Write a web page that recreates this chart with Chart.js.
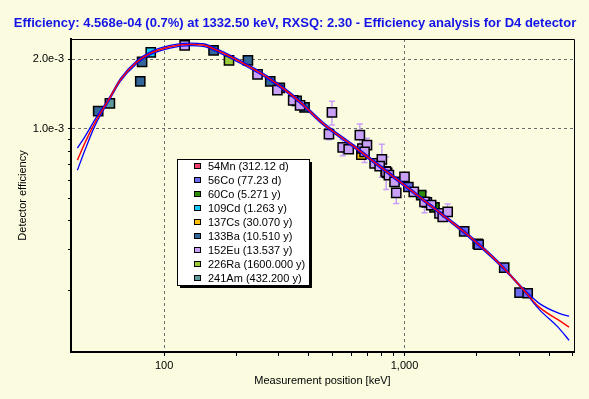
<!DOCTYPE html>
<html>
<head>
<meta charset="utf-8">
<script src="https://cdn.jsdelivr.net/npm/chart.js@4.4.0/dist/chart.umd.min.js"></script>
<style>
  html, body { margin: 0; padding: 0; background: #fbfbe0; }
  #wrap { width: 589px; height: 399px; }
</style>
</head>
<body>
<div id="wrap"><canvas id="eff" width="589" height="399"></canvas></div>
<script>
// measured points, energy [keV] / efficiency
const mn54E = [834.8];
const mn54Eff = [6.55e-4];
const co56E = [846.8, 1037.8, 1238.3, 1771.4, 2015.2, 2034.8, 2598.5, 3009.6, 3253.5];
const co56Eff = [6.45e-4, 5.60e-4, 4.80e-4, 3.60e-4, 3.18e-4, 3.15e-4, 2.506e-4, 1.952e-4, 1.94e-4];
const co60E = [1173.2, 1332.5];
const co60Eff = [5.16e-4, 4.568e-4];
const cd109E = [88.0];
const cd109Eff = [2.145e-3];
const cs137E = [661.7];
const cs137Eff = [7.73e-4];
const ba133E = [53.2, 79.6, 81.0, 160.6, 223.2, 276.4, 302.9, 356.0, 383.9];
const ba133Eff = [1.193e-3, 1.605e-3, 1.952e-3, 2.188e-3, 1.98e-3, 1.605e-3, 1.506e-3, 1.322e-3, 1.238e-3];
const eu152E = [121.8, 244.7, 295.9, 344.3, 367.8, 485, 499, 553, 586, 652, 668, 698, 682, 751, 805, 788, 839, 861, 909, 1000, 924, 1093, 1211, 1291, 1398, 1442, 1512];
const eu152Eff = [2.30e-3, 1.722e-3, 1.472e-3, 1.328e-3, 1.263e-3, 9.48e-4, 1.178e-3, 8.31e-4, 8.16e-4, 9.39e-4, 8.22e-4, 8.50e-4, 7.95e-4, 7.08e-4, 7.37e-4, 6.89e-4, 6.51e-4, 6.30e-4, 5.89e-4, 6.19e-4, 5.28e-4, 5.33e-4, 4.83e-4, 4.67e-4, 4.30e-4, 4.15e-4, 4.37e-4];
const eu152Err = [0, 0, 4.5e-5, 0, 0, 5e-5, 1.4e-4, 6.7e-5, 0, 1.1e-4, 0, 6e-5, 8e-5, 0, 1.2e-4, 0, 1.05e-4, 0, 0, 0, 5.3e-5, 0, 5e-5, 0, 0, 0, 3.5e-5];
const ra226E = [186.2];
const ra226Eff = [1.98e-3];
const am241E = [59.5];
const am241Eff = [1.289e-3];

// fitted curve and its bounds
const curveE = [43.6, 47.0, 51.7, 59.7, 65.7, 77.0, 87.5, 105.9, 128.2, 145.1, 170.8, 213.3, 266.8, 312.6, 366.6, 458.1, 620.1, 715.8, 1000, 1537, 1803, 2479, 3097, 3634, 4398, 4837];
const fitEff = [7.32e-4, 8.76e-4, 1.069e-3, 1.373e-3, 1.626e-3, 1.946e-3, 2.123e-3, 2.268e-3, 2.323e-3, 2.307e-3, 2.158e-3, 1.921e-3, 1.681e-3, 1.497e-3, 1.310e-3, 1.055e-3, 8.35e-4, 7.44e-4, 5.70e-4, 4.02e-4, 3.52e-4, 2.61e-4, 2.03e-4, 1.69e-4, 1.48e-4, 1.385e-4];
const upperEff = [8.25e-4, 9.30e-4, 1.102e-3, 1.386e-3, 1.647e-3, 1.971e-3, 2.151e-3, 2.297e-3, 2.353e-3, 2.337e-3, 2.186e-3, 1.946e-3, 1.703e-3, 1.516e-3, 1.327e-3, 1.069e-3, 8.46e-4, 7.54e-4, 5.77e-4, 4.07e-4, 3.57e-4, 2.64e-4, 2.05e-4, 1.754e-4, 1.588e-4, 1.545e-4];
const lowerEff = [6.62e-4, 8.16e-4, 1.038e-3, 1.352e-3, 1.605e-3, 1.921e-3, 2.096e-3, 2.239e-3, 2.293e-3, 2.277e-3, 2.130e-3, 1.896e-3, 1.659e-3, 1.478e-3, 1.293e-3, 1.041e-3, 8.24e-4, 7.34e-4, 5.63e-4, 3.97e-4, 3.47e-4, 2.58e-4, 2.02e-4, 1.653e-4, 1.367e-4, 1.213e-4];

const nuclideNames = ['54Mn (312.12 d)', '56Co (77.23 d)', '60Co (5.271 y)', '109Cd (1.263 y)', '137Cs (30.070 y)', '133Ba (10.510 y)', '152Eu (13.537 y)', '226Ra (1600.000 y)', '241Am (432.200 y)'];
const nuclideColors = ['#f0406c', '#6a6af0', '#2e8e0a', '#12c8f6', '#ffc010', '#336699', '#c8a0f8', '#9ccc38', '#5f9a9a'];
const series = [[mn54E, mn54Eff], [co56E, co56Eff], [co60E, co60Eff], [cd109E, cd109Eff], [cs137E, cs137Eff], [ba133E, ba133Eff], [eu152E, eu152Eff], [ra226E, ra226Eff], [am241E, am241Eff]];

const xTickValues = [100, 200, 300, 400, 500, 600, 700, 800, 900, 1000, 2000, 3000, 4000, 5000];
const xTickLabels = ['100', '', '', '', '', '', '', '', '', '1,000', '', '', '', ''];
const yTickValues = [2e-4, 3e-4, 4e-4, 5e-4, 6e-4, 7e-4, 8e-4, 9e-4, 1e-3, 2e-3];
const yTickLabels = ['', '', '', '', '', '', '', '', '1.0e-3', '2.0e-3'];

const titleText = 'Efficiency: 4.568e-04 (0.7%) at 1332.50 keV, RXSQ: 2.30 - Efficiency analysis for D4 detector';
const FONT = '"Liberation Sans", Arial, sans-serif';

Chart.defaults.font.family = FONT;
Chart.defaults.font.size = 11;
Chart.defaults.color = '#000';

const pts = (xs, ys) => xs.map((x, i) => ({ x: x, y: ys[i] }));

const datasets = [
  { label: 'fit', data: pts(curveE, fitEff), showLine: true, borderColor: '#ff0000', borderWidth: 1.4, pointRadius: 0, cubicInterpolationMode: 'monotone', order: 0 },
  { label: 'upper', data: pts(curveE, upperEff), showLine: true, borderColor: '#0000ff', borderWidth: 1.3, pointRadius: 0, cubicInterpolationMode: 'monotone', order: 1 },
  { label: 'lower', data: pts(curveE, lowerEff), showLine: true, borderColor: '#0000ff', borderWidth: 1.3, pointRadius: 0, cubicInterpolationMode: 'monotone', order: 1 },
];
series.forEach((s, i) => {
  datasets.push({
    label: nuclideNames[i],
    data: pts(s[0], s[1]),
    pointStyle: 'rect',
    pointRadius: 6.5,
    backgroundColor: nuclideColors[i],
    borderColor: '#000',
    borderWidth: 1.5,
    order: i === 6 ? 2 : 3,
  });
});

// error bars, title, frame and boxed legend
const extras = {
  id: 'extras',
  beforeDatasetsDraw(chart) {
    const { ctx, scales: { x, y } } = chart;
    ctx.save();
    ctx.strokeStyle = '#c8a0f8';
    ctx.lineWidth = 1.5;
    eu152E.forEach((e, i) => {
      const err = eu152Err[i];
      if (!err) return;
      const px = x.getPixelForValue(e);
      const top = y.getPixelForValue(eu152Eff[i] + err);
      const bot = y.getPixelForValue(eu152Eff[i] - err);
      ctx.beginPath();
      ctx.moveTo(px, top); ctx.lineTo(px, bot);
      ctx.moveTo(px - 3, top); ctx.lineTo(px + 3, top);
      ctx.moveTo(px - 3, bot); ctx.lineTo(px + 3, bot);
      ctx.stroke();
    });
    ctx.restore();
  },
  afterDraw(chart) {
    const { ctx, chartArea: a } = chart;
    ctx.save();
    // thin top and right frame
    ctx.strokeStyle = '#000';
    ctx.lineWidth = 1;
    ctx.beginPath();
    ctx.moveTo(a.left, a.top + 0.5); ctx.lineTo(a.right + 0.5, a.top + 0.5);
    ctx.lineTo(a.right + 0.5, a.bottom);
    ctx.stroke();

    // title
    ctx.fillStyle = '#1414e6';
    ctx.font = 'bold 13px ' + FONT;
    ctx.textAlign = 'center';
    ctx.textBaseline = 'middle';
    ctx.fillText(titleText, 295, 23);

    // legend
    const lx = 177, ly = 159, lw = 132, lh = 126;
    ctx.fillStyle = '#000';
    ctx.fillRect(lx + 3, ly + 3, lw, lh);
    ctx.fillStyle = '#fff';
    ctx.fillRect(lx, ly, lw, lh);
    ctx.strokeRect(lx + 0.5, ly + 0.5, lw, lh);
    ctx.font = '11px ' + FONT;
    ctx.textAlign = 'left';
    nuclideNames.forEach((name, i) => {
      const cy = ly + 7 + i * 14;
      ctx.fillStyle = nuclideColors[i];
      ctx.fillRect(194.5, cy - 2.5, 6, 5);
      ctx.strokeRect(194.5, cy - 2.5, 6, 5);
      ctx.fillStyle = '#000';
      ctx.fillText(name, 208, cy + 0.5);
    });
    ctx.restore();
  }
};

new Chart(document.getElementById('eff'), {
  type: 'scatter',
  data: { datasets: datasets },
  plugins: [extras],
  options: {
    responsive: false,
    animation: false,
    devicePixelRatio: 1,
    events: [],
    layout: { padding: { top: 39, right: 15, left: 0, bottom: 0 } },
    plugins: { legend: { display: false }, tooltip: { enabled: false } },
    scales: {
      x: {
        type: 'logarithmic',
        position: 'bottom',
        min: 41,
        max: 5070,
        afterBuildTicks: s => { s.ticks = xTickValues.map(v => ({ value: v })); },
        afterFit: s => { s.height = 47; },
        ticks: { autoSkip: false, maxRotation: 0, padding: 3, callback: (v, i) => xTickLabels[i] },
        grid: {
          color: c => (xTickLabels[c.index] ? '#6e6e6e' : 'transparent'),
          tickColor: '#000',
          tickLength: 4,
          lineWidth: 1,
        },
        border: { color: '#000', width: 2, dash: [3, 3] },
        title: { display: true, text: 'Measurement position [keV]', padding: { bottom: 11 } },
      },
      y: {
        type: 'logarithmic',
        min: 1.08e-4,
        max: 2.45e-3,
        afterBuildTicks: s => { s.ticks = yTickValues.map(v => ({ value: v })); },
        afterFit: s => { s.width = 71; },
        ticks: { autoSkip: false, padding: 4, callback: (v, i) => yTickLabels[i] },
        grid: {
          color: c => (yTickLabels[c.index] ? '#6e6e6e' : 'transparent'),
          tickColor: '#000',
          tickLength: 3,
          lineWidth: 1,
        },
        border: { color: '#000', width: 2, dash: [3, 3] },
        title: { display: true, text: 'Detector efficiency', padding: { top: 16 } },
      },
    },
  },
});
</script>
</body>
</html>
